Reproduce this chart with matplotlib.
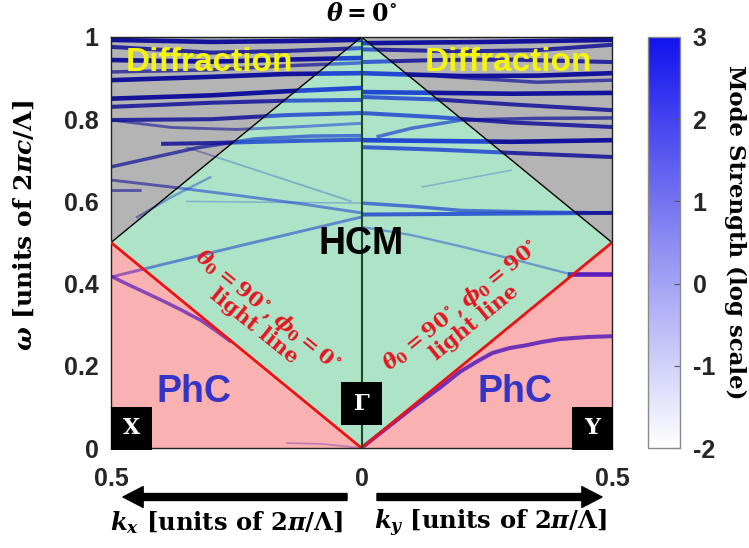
import numpy as np
import matplotlib
matplotlib.use("Agg")
import matplotlib.pyplot as plt
from matplotlib.path import Path
from matplotlib.patches import PathPatch, Rectangle, FancyArrowPatch
from matplotlib.colors import LinearSegmentedColormap, Normalize
from matplotlib.cm import ScalarMappable

plt.rcParams['mathtext.fontset'] = 'custom'
plt.rcParams['mathtext.it'] = 'DejaVu Serif:italic:bold'
plt.rcParams['mathtext.rm'] = 'DejaVu Serif:bold'
plt.rcParams['mathtext.bf'] = 'DejaVu Serif:bold'
plt.rcParams['mathtext.default'] = 'it'

# ---------------- data ----------------
# kx side (drawn to the left, labelled with positive kx)
kx_bands = [
    [0, 0.15, 0.3, 0.5], [0, 0.15, 0.3, 0.5], [0, 0.15, 0.3, 0.5], [0, 0.15, 0.3, 0.5],
    [0, 0.15, 0.3, 0.5], [0, 0.15, 0.3, 0.5], [0, 0.15, 0.3, 0.5], [0, 0.15, 0.3, 0.5],
    [0, 0.12, 0.25, 0.38, 0.5], [0, 0.1, 0.2, 0.3, 0.4],
    [0, 0.1, 0.214, 0.33, 0.5], [0, 0.12, 0.25, 0.38, 0.5], [0.44, 0.5], [0, 0.25, 0.5],
    [0.26, 0.29, 0.32, 0.36, 0.4, 0.44, 0.47, 0.5], [0.3, 0.38, 0.45], [0, 0.08, 0.15],
    [0.02, 0.35], [0, 0.1, 0.35],
]
wx_bands = [
    [0.993, 0.99, 0.988, 0.993], [0.973, 0.966, 0.962, 0.976], [0.949, 0.945, 0.94, 0.944],
    [0.937, 0.93, 0.92, 0.915], [0.912, 0.91, 0.903, 0.895], [0.876, 0.868, 0.858, 0.85],
    [0.847, 0.845, 0.84, 0.83], [0.815, 0.81, 0.80, 0.798],
    [0.79, 0.782, 0.775, 0.78, 0.798], [0.75, 0.748, 0.745, 0.742, 0.74],
    [0.76, 0.759, 0.752, 0.73, 0.684], [0.572, 0.594, 0.615, 0.635, 0.652],
    [0.628, 0.628], [0.562, 0.49, 0.416],
    [0.258, 0.285, 0.31, 0.336, 0.36, 0.383, 0.4, 0.418],
    [0.66, 0.61, 0.56], [0.0, 0.01, 0.012], [0.6, 0.732], [0.596, 0.597, 0.6],
]
sx_bands = [3, 2.5, 3, 2, 3, 3, 2.5, 2.5, 1.5, 2.5, 2, 1.5, 1.5, 1.5, 2, 1, 0.5, 0.5, 0.3]

# ky side (drawn to the right)
ky_bands = [
    [0, 0.25, 0.5], [0, 0.2, 0.35, 0.5], [0, 0.15, 0.3, 0.5], [0, 0.2, 0.35, 0.5],
    [0.15, 0.35, 0.5], [0, 0.15, 0.3, 0.5], [0, 0.15, 0.3, 0.5], [0, 0.15, 0.3, 0.5],
    [0.03, 0.1, 0.2, 0.35, 0.5], [0, 0.15, 0.3, 0.5], [0, 0.15, 0.3, 0.5],
    [0, 0.1, 0.2, 0.35, 0.5], [0, 0.5], [0.12, 0.3], [0, 0.1, 0.2, 0.3, 0.41], [0.41, 0.5],
    [0, 0.05, 0.1, 0.13, 0.16, 0.196, 0.23, 0.261, 0.295, 0.329, 0.36, 0.395, 0.45, 0.5],
]
wy_bands = [
    [0.985, 0.988, 0.993], [0.97, 0.965, 0.968, 0.981], [0.939, 0.944, 0.945, 0.939],
    [0.912, 0.905, 0.906, 0.912], [0.905, 0.89, 0.895], [0.866, 0.864, 0.862, 0.864],
    [0.854, 0.848, 0.836, 0.822], [0.815, 0.805, 0.792, 0.781],
    [0.757, 0.778, 0.798, 0.802, 0.803], [0.749, 0.747, 0.745, 0.749],
    [0.732, 0.726, 0.718, 0.708], [0.596, 0.588, 0.578, 0.574, 0.572],
    [0.568, 0.572], [0.635, 0.676], [0.538, 0.518, 0.49, 0.46, 0.425], [0.423, 0.423],
    [0.0, 0.048, 0.096, 0.123, 0.15, 0.185, 0.21, 0.231, 0.243, 0.25, 0.258, 0.265, 0.27, 0.272],
]
sy_bands = [3, 2.5, 2.5, 3, 2, 3, 2.5, 2.5, 2, 3, 2.5, 2, 2.5, 0.3, 1, 3, 2.5]

light_k = [-0.5, 0, 0.5]
light_w = [0.5, 0, 0.5]
diff_k = [-0.5, 0, 0.5]
diff_w = [0.5, 1, 0.5]

y_ticks = [0, 0.2, 0.4, 0.6, 0.8, 1]
y_ticklabels = ['0', '0.2', '0.4', '0.6', '0.8', '1']
x_ticks = [-0.5, 0, 0.5]
x_ticklabels = ['0.5', '0', '0.5']
cbar_ticks = [-2, -1, 0, 1, 2, 3]
cbar_ticklabels = ['-2', '-1', '0', '1', '2', '3']

# ---------------- figure ----------------
W, H = 749, 548
fig = plt.figure(figsize=(W / 100, H / 100), dpi=100)
ax = fig.add_axes([111 / W, 100 / H, 501 / W, 411 / H])
cax = fig.add_axes([648 / W, 100 / H, 32 / W, 411 / H])


def poly(pts):
    return Path(list(pts) + [pts[0]], [Path.MOVETO] + [Path.LINETO] * (len(pts) - 1) + [Path.CLOSEPOLY])


gray_path = Path.make_compound_path(poly([(-0.5, 0.5), (-0.5, 1), (0, 1)]),
                                    poly([(0, 1), (0.5, 1), (0.5, 0.5)]))
green_path = poly([(-0.5, 0.5), (0, 1), (0.5, 0.5), (0, 0)])
pink_path = Path.make_compound_path(poly([(-0.5, 0), (-0.5, 0.5), (0, 0)]),
                                    poly([(0, 0), (0.5, 0.5), (0.5, 0)]))

regions = [
    (gray_path, '#b4b4b4', '#12129a'),
    (green_path, '#ade4c8', '#2148d0'),
    (pink_path, '#f9b1b1', '#5a1cbc'),
]
patches = []
for p, fc, _ in regions:
    pp = PathPatch(p, fc=fc, ec='none', zorder=0)
    ax.add_patch(pp)
    patches.append(pp)


def draw_bands(ks, ws, ss, sign):
    for k, w, s in zip(ks, ws, ss):
        alpha = ((s + 2) / 5.0) ** 1.5
        lw = 0.9 + 0.8 * max(s, 0.3)
        for pp, (_, _, lc) in zip(patches, regions):
            ln, = ax.plot(sign * np.asarray(k), w, color=lc, alpha=alpha, lw=lw,
                          solid_capstyle='butt', solid_joinstyle='round', zorder=2)
            ln.set_clip_path(pp)


draw_bands(kx_bands, wx_bands, sx_bands, -1)
draw_bands(ky_bands, wy_bands, sy_bands, 1)

ax.plot(diff_k, diff_w, color='black', lw=1.0, zorder=3)
ax.plot(light_k, light_w, color='#ee1111', lw=2.0, zorder=3)
ax.plot([0, 0], [0, 1], color='#1c4a28', lw=1.5, zorder=3)

ax.set_xlim(-0.5, 0.5)
ax.set_ylim(0, 1)
ax.set_yticks(y_ticks)
ax.set_yticklabels(y_ticklabels)
ax.set_xticks(x_ticks)
ax.set_xticklabels(x_ticklabels)
ax.tick_params(axis='both', length=0, labelsize=18, colors='#262626')
ax.tick_params(axis='y', pad=9)
ax.tick_params(axis='x', pad=14)
for lab in ax.get_xticklabels() + ax.get_yticklabels():
    lab.set_fontweight('bold')
    lab.set_family('Liberation Sans')
for sp in ax.spines.values():
    sp.set_linewidth(1.0)
    sp.set_color('#222222')

# region labels
sans = 'Liberation Sans'
for xd, yd, txt, col, fs in [(-0.303, 0.937, 'Diffraction', '#f5f50a', 24),
                             (0.293, 0.937, 'Diffraction', '#f5f50a', 24),
                             (0.0, 0.496, 'HCM', 'black', 27),
                             (-0.335, 0.136, 'PhC', '#3434c6', 27),
                             (0.307, 0.136, 'PhC', '#3434c6', 27)]:
    ax.text(xd, yd, txt, color=col, fontsize=fs, fontweight='bold',
            family=sans, ha='center', va='center', zorder=5)

# light-line labels
ax.text(-0.2, 0.318, r'$\theta_0 = 90^{\circ}, \phi_0 = 0^{\circ}$' + '\nlight line',
        color='#e8141e', fontsize=15, fontweight='bold', family='DejaVu Serif',
        rotation=-39, rotation_mode='anchor', ha='center', va='center',
        multialignment='center', linespacing=0.95, zorder=5)
ax.text(0.21, 0.328, r'$\theta_0 = 90^{\circ}, \phi_0 = 90^{\circ}$' + '\nlight line',
        color='#e8141e', fontsize=15, fontweight='bold', family='DejaVu Serif',
        rotation=39, rotation_mode='anchor', ha='center', va='center',
        multialignment='center', linespacing=0.95, zorder=5)

# symmetry point boxes
for (x0, y0, w0, h0, lab) in [(-0.5, -0.005, 0.082, 0.105, 'X'),
                               (-0.041, 0.056, 0.082, 0.104, 'Γ'),
                               (0.42, -0.005, 0.082, 0.105, 'Y')]:
    ax.add_patch(Rectangle((x0, y0), w0, h0, fc='black', ec='none', zorder=6, clip_on=False))
    ax.text(x0 + w0 / 2, y0 + h0 / 2, lab, color='white', fontsize=16, fontweight='bold',
            family='DejaVu Serif', ha='center', va='center', zorder=7)

# colorbar
cmap = LinearSegmentedColormap.from_list('ms', ['#ffffff', '#8c8cf2', '#1212ee'])
sm = ScalarMappable(norm=Normalize(-2, 3), cmap=cmap)
cb = fig.colorbar(sm, cax=cax, ticks=cbar_ticks)
cb.set_ticklabels(cbar_ticklabels)
cb.outline.set_edgecolor('#8a8a8a')
cb.outline.set_linewidth(1.0)
cax.tick_params(length=4, direction='in', colors='#555555', labelsize=18, pad=9)
for lab in cax.get_yticklabels():
    lab.set_fontweight('bold')
    lab.set_family('Liberation Sans')
    lab.set_color('#262626')


def fx(x):
    return x / W


def fy(y):
    return 1 - y / H


serif = 'DejaVu Serif'
fig.text(fx(362), fy(14), r'$\theta = 0^{\circ}$', fontsize=17, fontweight='bold',
         family=serif, ha='center', va='center')
fig.text(fx(24), fy(226), r'$\omega$ [units of $2\pi c/\Lambda$]', fontsize=18,
         fontweight='bold', family=serif, rotation=90, ha='center', va='center')
fig.text(fx(227), fy(523), r'$k_x$ [units of $2\pi/\Lambda$]', fontsize=17.5,
         fontweight='bold', family=serif, ha='center', va='center')
fig.text(fx(490), fy(523), r'$k_y$ [units of $2\pi/\Lambda$]', fontsize=17.5,
         fontweight='bold', family=serif, ha='center', va='center')
fig.text(fx(735), fy(232), 'Mode Strength (log scale)', fontsize=16.5, fontweight='bold',
         family=serif, rotation=270, ha='center', va='center')

# direction arrows
for xa, xb in [(347, 123), (377, 602)]:
    fig.add_artist(FancyArrowPatch((fx(xa), fy(497)), (fx(xb), fy(497)),
                                   transform=fig.transFigure,
                                   arrowstyle='simple,head_length=1.45,head_width=1.5,tail_width=0.5',
                                   mutation_scale=10, color='black', shrinkA=0, shrinkB=0))

fig.savefig('out.png', dpi=100)
